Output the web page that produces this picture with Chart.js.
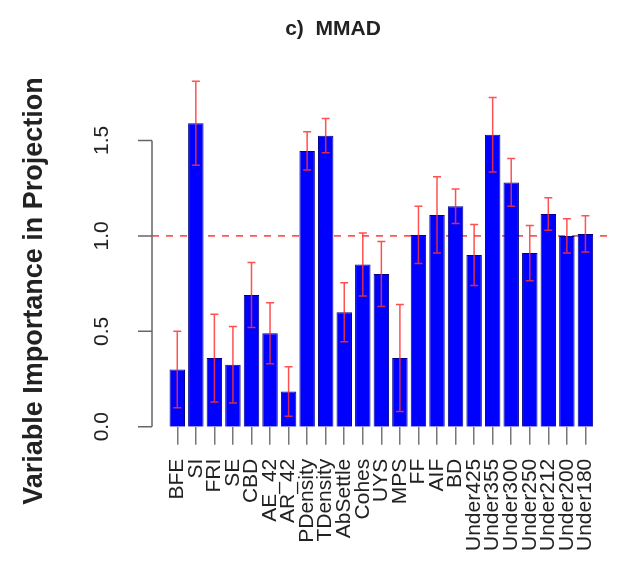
<!DOCTYPE html>
<html>
<head>
<meta charset="utf-8">
<script src="https://cdn.jsdelivr.net/npm/chart.js@4.4.1/dist/chart.umd.min.js"></script>
<style>
  html, body { margin: 0; padding: 0; background: #fff; }
  #wrap { width: 625px; height: 565px; }
</style>
</head>
<body>
<div id="wrap"><canvas id="vipChart" width="625" height="565"></canvas></div>
<script>
// values
const categories = ['BFE', 'SI', 'FRI', 'SE', 'CBD', 'AE_42', 'AR_42', 'PDensity', 'TDensity',
    'AbSettle', 'Cohes', 'UYS', 'MPS', 'FF', 'AIF', 'BD', 'Under425', 'Under355', 'Under300',
    'Under250', 'Under212', 'Under200', 'Under180'];
const vipValues = [0.30, 1.59, 0.36, 0.325, 0.69, 0.49, 0.185, 1.445, 1.525,
    0.60, 0.85, 0.80, 0.36, 1.005, 1.11, 1.155, 0.90, 1.53, 1.28,
    0.91, 1.115, 1.00, 1.01];
const vipErrors = [0.20, 0.22, 0.23, 0.20, 0.17, 0.16, 0.13, 0.10, 0.09,
    0.155, 0.165, 0.17, 0.28, 0.15, 0.20, 0.09, 0.16, 0.195, 0.125,
    0.145, 0.085, 0.09, 0.095];
const yTicks = [0, 0.5, 1.0, 1.5];
const yTickLabels = ['0.0', '0.5', '1.0', '1.5'];
const refLine = 1.0;
const chartTitle = 'c)  MMAD';
const yTitle = 'Variable Importance in Projection';

const FONT = "'Liberation Sans', Arial, sans-serif";

// R style axis, reference line, error bars and titles
const rStyle = {
    id: 'rStyle',
    beforeDatasetsDraw(chart) {
        const {ctx, chartArea} = chart;
        const py = chart.scales.y.getPixelForValue(refLine);
        ctx.save();
        ctx.strokeStyle = '#ff3b3b';
        ctx.lineWidth = 1.5;
        ctx.setLineDash([7, 7]);
        ctx.beginPath();
        ctx.moveTo(chartArea.left - 16, py);
        ctx.lineTo(chartArea.right + 16, py);
        ctx.stroke();
        ctx.restore();
    },
    afterDatasetsDraw(chart) {
        const {ctx} = chart;
        const y = chart.scales.y;
        const meta = chart.getDatasetMeta(0);
        ctx.save();
        ctx.strokeStyle = 'rgba(255,50,50,0.85)';
        ctx.lineWidth = 1.5;
        meta.data.forEach((bar, i) => {
            const top = y.getPixelForValue(vipValues[i] + vipErrors[i]);
            const bot = y.getPixelForValue(vipValues[i] - vipErrors[i]);
            ctx.beginPath();
            ctx.moveTo(bar.x, bot);
            ctx.lineTo(bar.x, top);
            ctx.moveTo(bar.x - 4, top);
            ctx.lineTo(bar.x + 4, top);
            ctx.moveTo(bar.x - 4, bot);
            ctx.lineTo(bar.x + 4, bot);
            ctx.stroke();
        });
        ctx.restore();
    },
    afterDraw(chart) {
        const {ctx, chartArea} = chart;
        const y = chart.scales.y;
        const ax = chartArea.left - 16;
        ctx.save();
        // y axis line and ticks
        ctx.strokeStyle = '#666';
        ctx.lineWidth = 1.5;
        ctx.beginPath();
        ctx.moveTo(ax, y.getPixelForValue(yTicks[0]));
        ctx.lineTo(ax, y.getPixelForValue(yTicks[yTicks.length - 1]));
        yTicks.forEach(v => {
            ctx.moveTo(ax, y.getPixelForValue(v));
            ctx.lineTo(ax - 14, y.getPixelForValue(v));
        });
        ctx.stroke();
        // tick labels, rotated like las=0
        ctx.fillStyle = '#222';
        ctx.font = '21px ' + FONT;
        ctx.textAlign = 'center';
        ctx.textBaseline = 'middle';
        yTicks.forEach((v, i) => {
            ctx.save();
            ctx.translate(ax - 50, y.getPixelForValue(v));
            ctx.rotate(-Math.PI / 2);
            ctx.fillText(yTickLabels[i], 0, 0);
            ctx.restore();
        });
        // y title
        ctx.save();
        ctx.font = 'bold 27px ' + FONT;
        ctx.translate(35, 291);
        ctx.rotate(-Math.PI / 2);
        ctx.fillText(yTitle, 0, 0);
        ctx.restore();
        // main title
        ctx.font = 'bold 21px ' + FONT;
        ctx.fillText(chartTitle, 333, 29);
        ctx.restore();
    }
};

new Chart(document.getElementById('vipChart'), {
    type: 'bar',
    plugins: [rStyle],
    data: {
        labels: categories,
        datasets: [{
            label: 'VIP',
            data: vipValues,
            backgroundColor: '#0000ff',
            borderColor: '#00008b',
            borderWidth: 1,
            categoryPercentage: 1.0,
            barPercentage: 0.833
        }]
    },
    options: {
        responsive: false,
        animation: false,
        layout: {
            padding: {top: 45, left: 168, right: 17, bottom: 0}
        },
        plugins: {
            legend: {display: false},
            tooltip: {enabled: false},
            title: {display: false}
        },
        scales: {
            x: {
                grid: {
                    offset: false,
                    drawOnChartArea: false,
                    drawTicks: true,
                    tickLength: 18,
                    color: '#777',
                    lineWidth: 1.5
                },
                border: {display: false},
                ticks: {
                    autoSkip: false,
                    minRotation: 90,
                    maxRotation: 90,
                    padding: 14,
                    color: '#222',
                    font: {family: FONT, size: 21}
                }
            },
            y: {
                display: false,
                min: 0,
                max: 2.0
            }
        }
    }
});
</script>
</body>
</html>
